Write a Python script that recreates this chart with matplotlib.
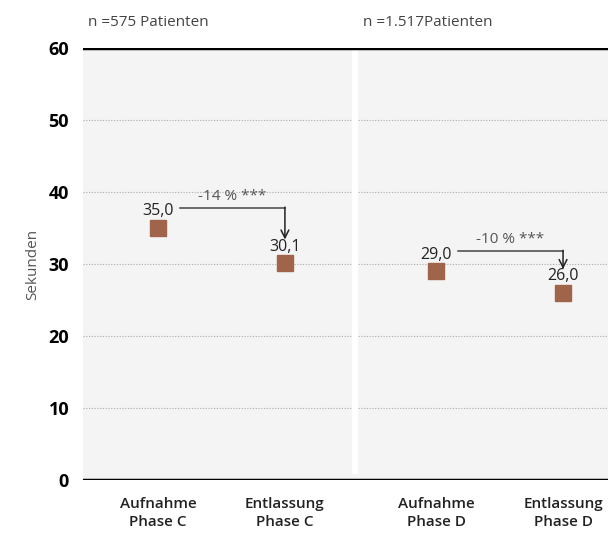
import numpy as np
import matplotlib.pyplot as plt

plt.rcParams['font.family'] = ['Open Sans', 'DejaVu Sans']

# data
categories = ['Aufnahme\nPhase C', 'Entlassung\nPhase C', 'Aufnahme\nPhase D', 'Entlassung\nPhase D']
values = [35.0, 30.1, 29.0, 26.0]
value_labels = ['35,0', '30,1', '29,0', '26,0']
changes = ['-14 % ***', '-10 % ***']
group_labels = ['n =575 Patienten', 'n =1.517Patienten']
yticks = [0, 10, 20, 30, 40, 50, 60]

xpos = [0, 1, 2.19, 3.19]
marker_col = '#a0644a'
bg = '#f3f4f3'

fig = plt.figure(figsize=(6.08, 5.33), dpi=100)
ax = fig.add_axes([83 / 608, 1 - 480 / 533, 525 / 608, 432 / 533])
ax.set_xlim(-0.59, 3.544)
ax.set_ylim(0, 60)
ax.set_facecolor(bg)
for s in ax.spines.values():
    s.set_visible(False)

# grid
for y in yticks[1:-1]:
    ax.axhline(y, color='#aaaaaa', lw=0.8, ls=(0, (1, 1.5)), zorder=1)
ax.axhline(60, color='black', lw=2.5, zorder=3)
ax.axhline(0, color='black', lw=2.5, zorder=3)
# separator between groups
ax.plot([1.55, 1.55], [1.2, 60], color='white', lw=4.5, zorder=2)

ax.plot(xpos, values, ls='none', marker='s', ms=11.5, color=marker_col, zorder=4)

for x, v, lab in zip(xpos, values, value_labels):
    ax.text(x, v + 1.2, lab, ha='center', va='bottom', fontsize=11.5, color='#222222', zorder=5)

# change arrows
pairs = [(0, 1), (2, 3)]
for (i, j), txt in zip(pairs, changes):
    y_line = values[i] + 2.8
    x0 = xpos[i] + 0.17
    ax.plot([x0, xpos[j]], [y_line, y_line], color='#444444', lw=1.1, zorder=5)
    ax.annotate('', xy=(xpos[j], values[j] + 3.3), xytext=(xpos[j], y_line + 0.1),
                arrowprops=dict(arrowstyle='->', color='#222222', lw=1.1,
                                shrinkA=0, shrinkB=0, mutation_scale=14), zorder=5)
    ax.text((x0 + xpos[j]) / 2, y_line + 0.6, txt, ha='center', va='bottom',
            fontsize=11, color='#555555', zorder=5)

ax.set_yticks(yticks)
ax.set_yticklabels([str(t) for t in yticks], fontsize=13, fontweight='bold')
ax.tick_params(axis='y', length=0, pad=10)
ax.set_xticks(xpos)
ax.set_xticklabels(categories, fontsize=11, fontweight='semibold', color='#222222',
                   linespacing=1.35)
ax.tick_params(axis='x', length=0, pad=12)
ax.set_ylabel('Sekunden', fontsize=11, color='#555555', labelpad=6)

fig.text(88 / 608, 1 - 23 / 533, group_labels[0], fontsize=11, color='#444444', va='center')
fig.text(363 / 608, 1 - 23 / 533, group_labels[1], fontsize=11, color='#444444', va='center')

fig.savefig('out.png', dpi=100)
